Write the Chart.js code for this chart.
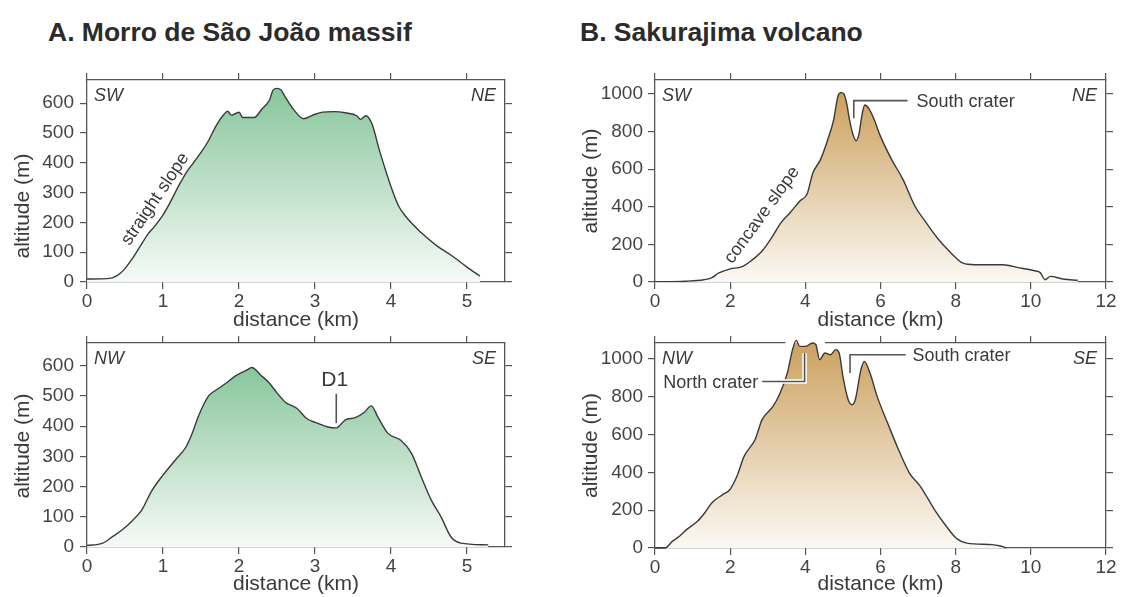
<!DOCTYPE html>
<html lang="en">
<head>
<meta charset="UTF-8">
<title>Topographic profiles - Morro de São João / Sakurajima</title>
<script src="https://cdn.jsdelivr.net/npm/chart.js@4.4.0/dist/chart.umd.min.js"></script>
<style>
    body { margin: 0; background: #fff; }
    #page { position: relative; width: 1126px; height: 597px; overflow: hidden; font-family: "Liberation Sans", Arial, sans-serif; }
    .panel-title { position: absolute; top: 17px; font-weight: bold; font-size: 26.5px; line-height: 30px; color: #2b2b2b; white-space: nowrap; }
    canvas { position: absolute; }
</style>
</head>
<body>
<div id="page">
    <div class="panel-title" style="left:48px">A. Morro de São João massif</div>
    <div class="panel-title" style="left:580px">B. Sakurajima volcano</div>
    <canvas id="chartA1" width="540" height="271" style="left:0;top:62px"></canvas>
    <canvas id="chartB1" width="566" height="271" style="left:560px;top:62px"></canvas>
    <canvas id="chartA2" width="540" height="272" style="left:0;top:325px"></canvas>
    <canvas id="chartB2" width="566" height="272" style="left:560px;top:325px"></canvas>
</div>
<script>
// A. Morro de Sao Joao, SW-NE profile (km, m)
const distA1 = [0, 0.3, 0.4, 0.5, 0.6, 0.7, 0.8, 0.9, 1.0, 1.1, 1.2, 1.3, 1.4, 1.5, 1.6, 1.7, 1.8, 1.85, 1.9, 1.95,
    2.0, 2.05, 2.2, 2.3, 2.4, 2.45, 2.5, 2.55, 2.6, 2.7, 2.85, 3.0, 3.1, 3.25, 3.4, 3.55, 3.6, 3.67, 3.75, 3.85,
    4.0, 4.1, 4.2, 4.4, 4.6, 4.8, 5.0, 5.17];
const altA1 = [10, 12, 22, 45, 80, 120, 160, 190, 225, 270, 320, 365, 400, 435, 475, 525, 562, 573, 560, 565,
    570, 552, 552, 580, 610, 645, 650, 645, 625, 585, 548, 563, 570, 572, 568, 558, 546, 558, 530, 440,
    320, 255, 218, 165, 122, 88, 50, 20];

// A. Morro de Sao Joao, NW-SE profile
const distA2 = [0, 0.2, 0.34, 0.46, 0.6, 0.72, 0.85, 1.0, 1.16, 1.3, 1.39, 1.47, 1.6, 1.69, 1.82, 1.96, 2.1, 2.17, 2.28, 2.39,
    2.5, 2.61, 2.76, 2.89, 3.03, 3.17, 3.28, 3.4, 3.53, 3.65, 3.74, 3.83, 3.96, 4.13, 4.27, 4.4, 4.53, 4.66, 4.79, 4.92, 5.28];
const altA2 = [5, 12, 35, 56, 88, 122, 185, 238, 287, 330, 380, 435, 500, 518, 540, 567, 585, 594, 570, 545,
    510, 479, 459, 425, 410, 397, 394, 421, 428, 446, 467, 429, 376, 353, 310, 231, 155, 99, 33, 13, 7];

// B. Sakurajima, SW-NE profile
const distB1 = [0, 0.8, 1.3, 1.5, 1.7, 2.0, 2.3, 2.55, 2.85, 3.1, 3.35, 3.6, 3.85, 4.05, 4.2, 4.4, 4.6, 4.75, 4.87, 4.95,
    5.03, 5.1, 5.17, 5.26, 5.35, 5.43, 5.5, 5.58, 5.7, 5.82, 6.0, 6.3, 6.6, 6.9, 7.2, 7.55, 7.85, 8.2, 8.5, 9.25,
    9.7, 10.1, 10.25, 10.38, 10.52, 10.85, 11.25];
const altB1 = [0, 4, 12, 22, 48, 70, 80, 112, 165, 235, 315, 370, 430, 470, 580, 650, 760, 860, 990, 1008,
    1000, 950, 870, 790, 752, 790, 880, 942, 920, 870, 775, 650, 545, 410, 320, 225, 160, 100, 92, 92,
    75, 60, 50, 12, 30, 16, 9];

// B. Sakurajima, NW-SE profile
const distB2 = [0, 0.27, 0.46, 0.65, 0.84, 1.13, 1.32, 1.51, 1.8, 1.99, 2.18, 2.37, 2.66, 2.85, 3.14, 3.33, 3.52, 3.66, 3.76, 3.85,
    4.0, 4.19, 4.28, 4.38, 4.52, 4.67, 4.81, 4.9, 5.0, 5.14, 5.24, 5.33, 5.48, 5.57, 5.72, 5.91, 6.19, 6.48, 6.77, 7.06,
    7.44, 7.72, 8.01, 8.3, 8.97, 9.16, 9.35];
const altB2 = [0, 0, 35, 62, 97, 141, 185, 238, 282, 308, 379, 484, 572, 678, 748, 819, 924, 1048, 1097, 1065,
    1065, 1083, 1074, 995, 1030, 1021, 1048, 1030, 907, 783, 757, 783, 942, 986, 924, 801, 660, 519, 396, 326,
    202, 123, 53, 26, 18, 12, 0];

// text annotations (data coordinates)
const notesA1 = [{ text: 'straight slope', x: 0.9, y: 278, rot: -56 }];
const notesA2 = [{ text: 'D1', x: 3.26, y: 551, size: 21 }];
const leadA2 = [{ path: [[3.28, 507], [3.28, 410]] }];
const notesB1 = [
    { text: 'concave slope', x: 2.85, y: 356, rot: -54 },
    { text: 'South crater', x: 6.96, y: 959, align: 'left' }
];
const leadB1 = [{ path: [[5.29, 871], [5.29, 965], [6.72, 965]] }];
const notesB2 = [
    { text: 'South crater', x: 6.85, y: 1012, align: 'left' },
    { text: 'North crater', x: 0.22, y: 871, align: 'left' }
];
const leadB2 = [
    { path: [[5.19, 924], [5.19, 1021], [6.67, 1021]] },
    { path: [[2.85, 880], [3.98, 880], [3.98, 1030]], halo: true }
];

const FONT = '"Liberation Sans", Arial, sans-serif';
const INK = '#3a3a3a';
const AXIS = '#555';

function fillGradient(topRgb, bottomRgb, peak) {
    return function(c) {
        const chart = c.chart;
        if (!chart.chartArea) return 'rgba(0,0,0,0)';
        const y = chart.scales.y;
        const g = chart.ctx.createLinearGradient(0, y.getPixelForValue(peak), 0, y.getPixelForValue(0));
        g.addColorStop(0, topRgb);
        g.addColorStop(1, bottomRgb);
        return g;
    };
}

// y title, corner labels, annotation text, leader lines, gap in the top frame
const notesPlugin = {
    id: 'notes',
    beforeDatasetsDraw(chart, args, opts) {
        if (!opts.gap) return;
        const { ctx, chartArea, scales } = chart;
        const x0 = scales.x.getPixelForValue(opts.gap[0]);
        const x1 = scales.x.getPixelForValue(opts.gap[1]);
        ctx.save();
        ctx.fillStyle = '#fff';
        ctx.fillRect(x0, chartArea.top - 9, x1 - x0, 11);
        ctx.restore();
    },
    afterDatasetsDraw(chart, args, opts) {
        const { ctx, chartArea: a, scales } = chart;
        const sx = scales.x, sy = scales.y;
        ctx.save();
        ctx.fillStyle = INK;
        ctx.textBaseline = 'middle';

        // axis title, shifted where the original sits off-centre
        ctx.save();
        ctx.translate(opts.yTitle[0], (a.top + a.bottom) / 2 + opts.yTitle[1]);
        ctx.rotate(-Math.PI / 2);
        ctx.font = '21px ' + FONT;
        ctx.textAlign = 'center';
        ctx.fillText('altitude (m)', 0, 0);
        ctx.restore();

        ctx.font = 'italic 18px ' + FONT;
        ctx.textAlign = 'left';
        ctx.fillText(opts.corners[0], a.left + 7, a.top + 16);
        ctx.textAlign = 'right';
        ctx.fillText(opts.corners[1], a.right - 9, a.top + 16);

        (opts.leaders || []).forEach(l => {
            const pts = l.path.map(p => [sx.getPixelForValue(p[0]), sy.getPixelForValue(p[1])]);
            const stroke = (w, col) => {
                ctx.beginPath();
                pts.forEach((p, i) => i ? ctx.lineTo(p[0], p[1]) : ctx.moveTo(p[0], p[1]));
                ctx.lineWidth = w;
                ctx.strokeStyle = col;
                ctx.stroke();
            };
            if (l.halo) stroke(4.5, '#fff');
            stroke(1.6, AXIS);
        });

        (opts.labels || []).forEach(t => {
            ctx.save();
            ctx.translate(sx.getPixelForValue(t.x), sy.getPixelForValue(t.y));
            if (t.rot) ctx.rotate(t.rot * Math.PI / 180);
            ctx.font = (t.size || 18) + 'px ' + FONT;
            ctx.textAlign = t.align || 'center';
            ctx.fillStyle = INK;
            ctx.fillText(t.text, 0, 0);
            ctx.restore();
        });
        ctx.restore();
    }
};

function profileChart(id, dist, alt, cfg) {
    const tickFont = { family: FONT, size: 19 };
    const titleFont = { family: FONT, size: 21 };
    const grid = { drawOnChartArea: false, drawTicks: true, tickLength: 7, color: AXIS, lineWidth: 1.2 };
    const border = { display: true, color: AXIS, width: 1.3 };
    const fixW = w => s => { s.width = w; };
    const fixH = h => s => { s.height = h; };

    return new Chart(document.getElementById(id), {
        type: 'line',
        data: {
            datasets: [{
                data: dist.map((d, i) => ({ x: d, y: alt[i] })),
                borderColor: INK,
                borderWidth: 1.4,
                pointRadius: 0,
                cubicInterpolationMode: 'monotone',
                fill: 'origin',
                clip: cfg.clip === false ? false : undefined,
                backgroundColor: fillGradient(cfg.top, cfg.bottom, Math.max(...alt))
            }]
        },
        options: {
            responsive: false,
            animation: false,
            layout: { padding: 0 },
            plugins: {
                legend: { display: false },
                tooltip: { enabled: false },
                notes: { corners: cfg.corners, labels: cfg.labels, leaders: cfg.leaders, gap: cfg.gap, yTitle: cfg.yTitle }
            },
            scales: {
                x: {
                    type: 'linear', position: 'bottom', min: 0, max: cfg.xMax,
                    ticks: { stepSize: cfg.xStep, includeBounds: false, font: tickFont, color: '#444', padding: 1, maxRotation: 0, callback: v => String(v) },
                    grid: grid, border: border,
                    title: { display: true, text: 'distance (km)', font: titleFont, color: INK, padding: 0 },
                    afterFit: fixH(cfg.box[3])
                },
                x2: {
                    type: 'linear', position: 'top', min: 0, max: cfg.xMax,
                    ticks: { stepSize: cfg.xStep, includeBounds: false, display: false },
                    grid: grid, border: border,
                    afterFit: fixH(cfg.box[2])
                },
                y: {
                    type: 'linear', position: 'left', min: 0, max: cfg.yMax,
                    ticks: { stepSize: cfg.yStep, includeBounds: false, font: tickFont, color: '#444', padding: cfg.tickPad, callback: v => String(v) },
                    grid: grid, border: border,
                    afterFit: fixW(cfg.box[0])
                },
                y2: {
                    type: 'linear', position: 'right', min: 0, max: cfg.yMax,
                    ticks: { stepSize: cfg.yStep, includeBounds: false, display: false },
                    grid: grid, border: border,
                    afterFit: fixW(cfg.box[1])
                }
            }
        },
        plugins: [notesPlugin]
    });
}

const GREEN_TOP = 'rgb(136,198,156)', GREEN_BOTTOM = 'rgb(246,250,247)';
const TAN_TOP = 'rgb(204,160,94)', TAN_BOTTOM = 'rgb(251,249,244)';

// box = [left axis width, right axis width, top axis height, bottom axis height]
profileChart('chartA1', distA1, altA1, {
    xMax: 5.5, xStep: 1, yMax: 678, yStep: 100, box: [87, 35, 18, 51], tickPad: 6, yTitle: [23, 25],
    top: GREEN_TOP, bottom: GREEN_BOTTOM, corners: ['SW', 'NE'], labels: notesA1
});
profileChart('chartB1', distB1, altB1, {
    xMax: 12, xStep: 2, yMax: 1075, yStep: 200, box: [95, 20, 18, 51], tickPad: 5, yTitle: [31, 0],
    top: TAN_TOP, bottom: TAN_BOTTOM, corners: ['SW', 'NE'], labels: notesB1, leaders: leadB1
});
profileChart('chartA2', distA2, altA2, {
    xMax: 5.5, xStep: 1, yMax: 675, yStep: 100, box: [87, 35, 18, 50], tickPad: 6, yTitle: [23, 1],
    top: GREEN_TOP, bottom: GREEN_BOTTOM, corners: ['NW', 'SE'], labels: notesA2, leaders: leadA2
});
profileChart('chartB2', distB2, altB2, {
    xMax: 12, xStep: 2, yMax: 1083, yStep: 200, box: [95, 20, 18, 49], tickPad: 5, yTitle: [31, 0],
    top: TAN_TOP, bottom: TAN_BOTTOM, corners: ['NW', 'SE'], labels: notesB2, leaders: leadB2,
    gap: [3.47, 4.52], clip: false
});
</script>
</body>
</html>
